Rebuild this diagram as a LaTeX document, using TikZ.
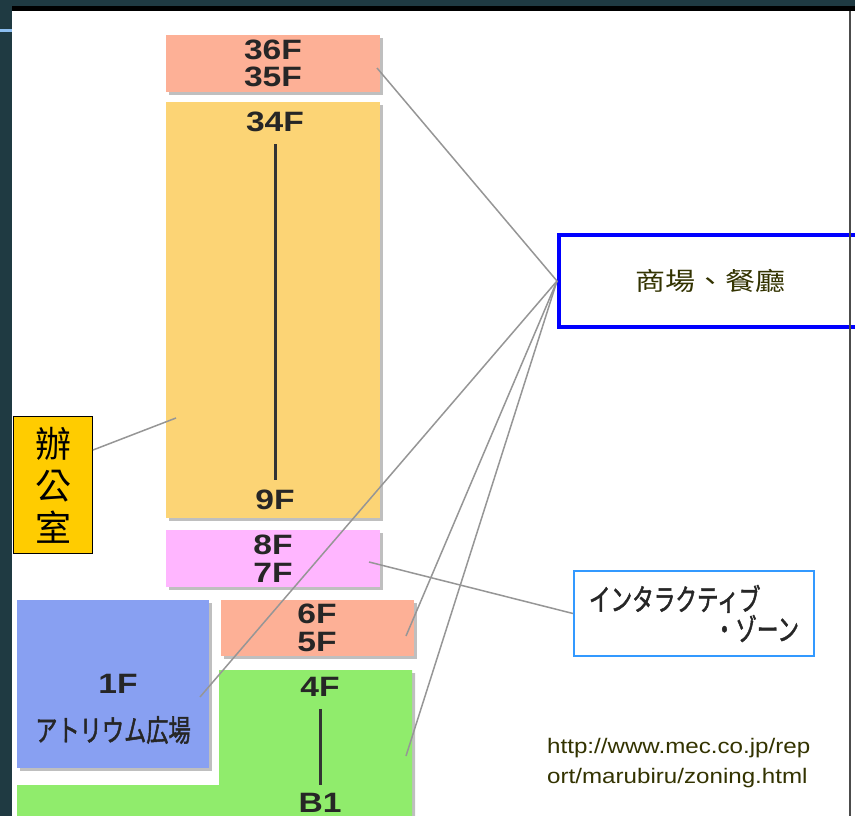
\documentclass[tikz,border=0pt]{standalone}
\usepackage{fontspec}
\usepackage{tikz}
\usetikzlibrary{shadows}

\newfontfamily\floorfont[FakeStretch=1.2]{Liberation Sans}
\newfontfamily\urlfont[FakeStretch=1.15]{Liberation Sans}
\newfontfamily\jpfont[FakeStretch=0.74,FakeBold=1.5]{Noto Sans CJK JP}
\newfontfamily\zonefont[FakeStretch=0.72,FakeBold=1.5]{Noto Sans CJK JP}
\newfontfamily\tcfont{Noto Sans CJK TC}
\newfontfamily\shopfont[FakeStretch=1.2]{Noto Sans CJK TC}

\definecolor{bgteal}{RGB}{31,58,66}
\definecolor{stripeblue}{RGB}{140,190,240}
\definecolor{salmon}{RGB}{253,176,150}
\definecolor{officeyellow}{RGB}{252,212,117}
\definecolor{eventpink}{RGB}{255,182,255}
\definecolor{atriumblue}{RGB}{136,160,242}
\definecolor{shopgreen}{RGB}{144,236,108}
\definecolor{labelgold}{RGB}{255,204,0}
\definecolor{linkgray}{RGB}{150,150,150}
\definecolor{olivetext}{RGB}{51,51,0}
\definecolor{zoneblue}{RGB}{51,153,255}

\begin{document}
\begin{tikzpicture}[x=1pt,y=1pt,yscale=-1,xscale=1,
  floorbox/.style={inner sep=0pt,align=center,text=black!85,
    font=\floorfont\bfseries\fontsize{28}{27.5}\selectfont,
    drop shadow={shadow xshift=3pt,shadow yshift=-3pt,fill=black,opacity=0.25}},
  floorlabel/.style={inner sep=0pt,text=black!85,font=\floorfont\bfseries\fontsize{28}{27.5}\selectfont},
  floorrule/.style={draw=black!80,line width=3pt},
  zoneline/.style={draw=linkgray,line width=1.5pt}]
\useasboundingbox (0,0) rectangle (855,816);
%background
\fill [bgteal] (0,0) rectangle (855,816);
\fill [white] (12,11) rectangle (855,816);
\fill [black] (12,6) rectangle (855,11);
\fill [stripeblue] (0,29) rectangle (12,32);
%floors
\node [floorbox,fill=salmon,minimum width=214pt,minimum height=57pt] (f36) at (273,63.5) {36F\\35F};
\node [floorbox,fill=officeyellow,minimum width=214pt,minimum height=416pt] (f34) at (273,310) {};
\node [floorbox,fill=eventpink,minimum width=214pt,minimum height=57pt] (f8) at (273,558.5) {8F\\7F};
\node [floorbox,fill=atriumblue,minimum width=192pt,minimum height=168pt] (f1) at (113,684) {};
\node [floorbox,fill=salmon,minimum width=193pt,minimum height=56pt] (f6) at (317,628) {6F\\5F};
\fill [shopgreen,drop shadow={shadow xshift=3pt,shadow yshift=-3pt,fill=black,opacity=0.25}] (219,670) -- (412,670) -- (412,820) -- (17,820) -- (17,785) -- (219,785) -- cycle;
% Text Node
\node [floorlabel] (l34) at (275,122) {34F};
\node [floorlabel] (l9) at (275,500) {9F};
\draw [floorrule,shorten <=12pt,shorten >=10pt] (l34) -- (l9);
\node [floorlabel] (l4) at (320,687) {4F};
\node [floorlabel,anchor=north] (lb1) at (320,793) {B1};
\draw [floorrule,shorten <=12pt,shorten >=8pt] (l4) -- (lb1);
\node [floorlabel] (l1) at (118,684) {1F};
\node [inner sep=0pt,text=black!85,font=\jpfont\fontsize{30}{30}\selectfont] (latrium) at (113,730) {アトリウム広場};
%zones
\node [draw=black,line width=1.5pt,fill=labelgold,inner sep=0pt,minimum width=79pt,minimum height=137pt,align=center,font=\tcfont\fontsize{36}{42}\selectfont] (office) at (53,485) {辦\\公\\室};
\node [draw=blue,line width=4pt,inner sep=0pt,minimum width=302pt,minimum height=92pt,text=olivetext,font=\shopfont\fontsize{25}{25}\selectfont] (shop) at (710,281) {商場、餐廳};
\node [draw=zoneblue,line width=2pt,fill=white,inner sep=0pt,minimum width=240pt,minimum height=85pt,text width=210pt,align=left,text=black!85,font=\zonefont\fontsize{30}{30}\selectfont] (inter) at (694,613.5) {インタラクティブ\\\hspace*{\fill}・ゾーン};
\node [anchor=north west,inner sep=0pt,align=left,text=olivetext,font=\urlfont\fontsize{21}{30}\selectfont] (url) at (547,738) {http://www.mec.co.jp/rep\\ort/marubiru/zoning.html};
%links
\coordinate (e36) at (377,68);
\coordinate (e34) at (176,418);
\coordinate (eoff) at (93,450);
\coordinate (e1) at (200,697);
\coordinate (e8) at (369,562);
\coordinate (e6) at (406,636);
\coordinate (e4) at (406,756);
\draw [zoneline] (eoff) -- (e34);
\draw [zoneline] (e36) -- (shop.west);
\draw [zoneline] (e1) -- (shop.west);
\draw [zoneline] (e6) -- (shop.west);
\draw [zoneline] (e4) -- (shop.west);
\draw [zoneline] (e8) -- (inter.west);
%right edge
\draw [black!70,line width=2pt] (850,11) -- (850,816);
\end{tikzpicture}
\end{document}
